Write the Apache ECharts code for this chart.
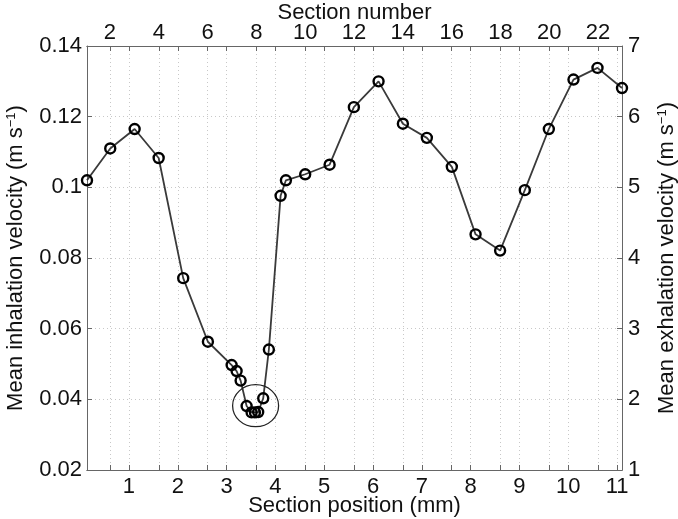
<!DOCTYPE html>
<html>
<head>
<meta charset="utf-8">
<script src="https://cdn.jsdelivr.net/npm/echarts@6/dist/echarts.min.js"></script>
<style>
  html, body { margin: 0; padding: 0; background: #fff; }
  #chart { width: 678px; height: 519px; }
</style>
</head>
<body>
<div id="chart"></div>
<script>
// section position along the tract (mm) and mean inhalation velocity (m/s)
var sectionPos = [0.14, 0.616, 1.116, 1.608, 2.111, 2.617, 3.103, 3.205, 3.287, 3.41, 3.512, 3.58, 3.647,
  3.75, 3.866, 4.106, 4.215, 4.61, 5.11, 5.607, 6.113, 6.611, 7.102, 7.614, 8.1, 8.603, 9.109, 9.601,
  10.106, 10.598, 11.1];
var inhalation = [0.102, 0.111, 0.1165, 0.1083, 0.0743, 0.0563, 0.0497, 0.048, 0.0453, 0.0381, 0.0363, 0.0363, 0.0364,
  0.0403, 0.0541, 0.0976, 0.102, 0.1037, 0.1064, 0.1227, 0.13, 0.118, 0.114, 0.1058, 0.0867, 0.0821, 0.0992, 0.1165,
  0.1305, 0.1338, 0.1281];

// axis ranges and tick labels
var posRange = [0.14, 11.1];        // bottom axis, mm
var posTicks = [1, 2, 3, 4, 5, 6, 7, 8, 9, 10, 11];
var sectionRange = [1.06, 22.98];   // top axis, section number
var sectionTicks = [2, 4, 6, 8, 10, 12, 14, 16, 18, 20, 22];
var inhaleRange = [0.02, 0.14];
var exhaleRange = [1, 7];

// ellipse drawn around the minimum
var minimumMark = [3.594, 0.0382];

var font = 'Liberation Sans, Arial, sans-serif';
var fs = 22;
var textColor = '#111';
var frameColor = '#666';
var gridStyle = { color: '#c8c8c8', width: 1, type: [1, 3] };

var chart = echarts.init(document.getElementById('chart'));

function xAx(opts, ticks, labelMargin) {
  var base = {
    type: 'value',
    nameMoveOverlap: false,
    axisLine: { show: true, lineStyle: { color: frameColor, width: 1 } },
    axisTick: { show: true, inside: true, length: 5, customValues: ticks, lineStyle: { color: frameColor } },
    axisLabel: labelMargin != null
      ? { show: true, customValues: ticks, color: textColor, fontFamily: font, fontSize: fs, margin: labelMargin }
      : { show: false },
    splitLine: { show: false }
  };
  return Object.assign(base, opts);
}

var supStyle = { fontSize: 13, fontFamily: font, color: textColor, verticalAlign: 'top', padding: [0, 0, 8, 0] };

var option = {
  animation: false,
  grid: { left: 87, right: 56, top: 46, bottom: 49, outerBoundsMode: 'none', containLabel: false },
  xAxis: [
    xAx({
      position: 'bottom', min: posRange[0], max: posRange[1],
      splitLine: { show: true, lineStyle: gridStyle },
      name: 'Section position (mm)', nameLocation: 'middle', nameGap: 25,
      nameTextStyle: { color: textColor, fontFamily: font, fontSize: fs, verticalAlign: 'top' }
    }, posTicks, 6),
    xAx({
      position: 'top', min: sectionRange[0], max: sectionRange[1],
      splitLine: { show: true, lineStyle: gridStyle },
      name: 'Section number', nameLocation: 'middle', nameGap: 22,
      nameTextStyle: { color: textColor, fontFamily: font, fontSize: fs, verticalAlign: 'bottom' }
    }, sectionTicks, 2),
    // mirrored ticks on the opposite side of the box
    xAx({ position: 'top', min: posRange[0], max: posRange[1] }, posTicks, null),
    xAx({ position: 'bottom', min: sectionRange[0], max: sectionRange[1] }, sectionTicks, null)
  ],
  yAxis: [
    {
      type: 'value', position: 'left', min: inhaleRange[0], max: inhaleRange[1], interval: 0.02,
      nameMoveOverlap: false,
      axisLine: { show: true, lineStyle: { color: frameColor } },
      axisTick: { show: true, inside: true, length: 5, lineStyle: { color: frameColor } },
      axisLabel: { color: textColor, fontFamily: font, fontSize: fs, margin: 5 },
      splitLine: { show: true, lineStyle: gridStyle },
      name: 'Mean inhalation velocity (m s{sup|\u22121})', nameLocation: 'middle', nameGap: 60, nameRotate: 90,
      nameTextStyle: { color: textColor, fontFamily: font, fontSize: fs, verticalAlign: 'bottom', rich: { sup: supStyle } }
    },
    {
      type: 'value', position: 'right', min: exhaleRange[0], max: exhaleRange[1], interval: 1,
      nameMoveOverlap: false,
      axisLine: { show: true, lineStyle: { color: frameColor } },
      axisTick: { show: true, inside: true, length: 5, lineStyle: { color: frameColor } },
      axisLabel: { color: textColor, fontFamily: font, fontSize: fs, margin: 6 },
      splitLine: { show: false },
      name: 'Mean exhalation velocity (m s{sup|\u22121})', nameLocation: 'middle', nameGap: 34, nameRotate: 90,
      nameTextStyle: { color: textColor, fontFamily: font, fontSize: fs, verticalAlign: 'top', rich: { sup: supStyle } }
    }
  ],
  series: [{
    type: 'line',
    xAxisIndex: 0,
    yAxisIndex: 0,
    data: sectionPos.map(function (x, i) { return [x, inhalation[i]]; }),
    symbol: 'circle',
    symbolSize: 10,
    lineStyle: { color: '#3a3a3a', width: 1.8 },
    itemStyle: { color: 'rgba(255,255,255,0)', borderColor: '#000', borderWidth: 2.4 },
    clip: false,
    markPoint: {
      silent: true,
      data: [{
        coord: minimumMark,
        symbol: 'circle',
        symbolSize: [46, 42],
        itemStyle: { color: 'rgba(0,0,0,0)', borderColor: '#222', borderWidth: 1.2 },
        label: { show: false }
      }]
    }
  }]
};

chart.setOption(option);
</script>
</body>
</html>
